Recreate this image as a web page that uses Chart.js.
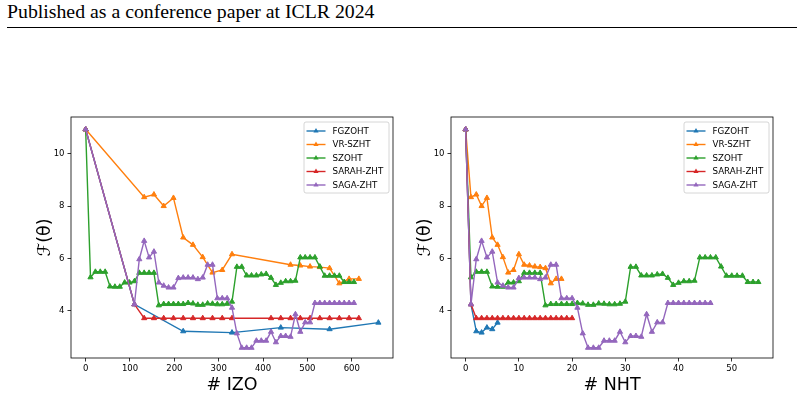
<!DOCTYPE html>
<html>
<head>
<meta charset="utf-8">
<script src="https://cdn.jsdelivr.net/npm/chart.js@4.4.1/dist/chart.umd.min.js"></script>
<style>
  body { margin: 0; background: #fff; width: 804px; height: 399px; position: relative; overflow: hidden; }
  #header { position: absolute; left: 7px; top: 2px; font-family: "Liberation Serif", serif; font-size: 19.8px; line-height: 19.8px; color: #000; white-space: nowrap; }
  #rule { position: absolute; left: 7px; top: 27px; width: 790px; height: 1px; background: #000; }
  canvas { position: absolute; }
</style>
</head>
<body>
<div id="header">Published as a conference paper at ICLR 2024</div>
<div id="rule"></div>
<canvas id="izoChart" width="400" height="299" style="left:0px; top:100px;"></canvas>
<canvas id="nhtChart" width="404" height="299" style="left:400px; top:100px;"></canvas>
<script>
const seriesNames = ["FGZOHT", "VR-SZHT", "SZOHT", "SARAH-ZHT", "SAGA-ZHT"];
const seriesColors = ["#1f77b4", "#ff7f0e", "#2ca02c", "#d62728", "#9467bd"];

const yTicks = [4, 6, 8, 10];
const izoTicks = [0, 100, 200, 300, 400, 500, 600];
const nhtTicks = [0, 10, 20, 30, 40, 50];

// objective values (same run seen against #IZO and #NHT)
const fgValues = [10.93, 4.25, 3.22, 3.17, 3.36, 3.30, 3.55];
const vrValues = [10.93, 8.34, 8.44, 8.00, 8.31, 6.80, 6.52, 6.05, 5.46, 5.56, 6.16, 5.76, 5.73, 5.69, 5.67, 5.63, 5.05, 5.22, 5.22];
const szValues = [10.93, 5.28, 5.49, 5.49, 5.49, 4.93, 4.92, 4.92, 5.08, 5.08,
  5.13, 5.45, 5.45, 5.45, 5.45, 4.21, 4.26, 4.26, 4.26, 4.26,
  4.26, 4.30, 4.28, 4.23, 4.23, 4.28, 4.27, 4.25, 4.25, 4.27,
  4.35, 5.68, 5.68, 5.35, 5.35, 5.35, 5.39, 5.41, 5.26, 4.99,
  5.07, 5.13, 5.13, 5.15, 6.04, 6.04, 6.04, 6.04, 5.69, 5.34,
  5.34, 5.34, 5.34, 5.10, 5.10, 5.10];
const sagaValues = [10.93, 4.25, 5.97, 6.67, 6.04, 6.26, 5.08, 4.96, 4.89, 4.89,
  5.25, 5.27, 5.27, 5.27, 5.21, 5.27, 5.76, 5.76, 4.48, 4.48,
  4.48, 4.12, 3.14, 2.59, 2.59, 2.59, 2.86, 2.86, 2.86, 3.20,
  2.80, 3.04, 3.04, 3.01, 3.87, 3.20, 3.56, 3.56, 4.30, 4.30,
  4.30, 4.30, 4.30, 4.30, 4.30, 4.30, 4.30];
const sarahIzoValues = [10.93, 4.25, 3.72, 3.72, 3.72, 3.72, 3.72, 3.72, 3.72, 3.72, 3.72,
  3.72, 3.72, 3.72, 3.72, 3.72, 3.72, 3.72, 3.72, 3.72, 3.72, 3.72];
const sarahNhtValues = [10.93, 4.25, 3.72, 3.72, 3.72, 3.72, 3.72, 3.72, 3.72, 3.72, 3.72,
  3.72, 3.72, 3.72, 3.72, 3.72, 3.72, 3.72, 3.72, 3.72, 3.72];

// #IZO positions
const fgIzo = [0, 110, 220, 330, 440, 550, 660];
const vrIzo = [0, 132, 154, 176, 198, 220, 242, 264, 286, 308, 330, 462, 484, 506, 528, 550, 572, 594, 616];
const szIzo = [0, 11, 22, 33, 44, 55, 66, 77, 88, 99,
  110, 121, 132, 143, 154, 165, 176, 187, 198, 209,
  220, 231, 242, 253, 264, 275, 286, 297, 308, 319,
  330, 341, 352, 363, 374, 385, 396, 407, 418, 429,
  440, 451, 462, 473, 484, 495, 506, 517, 528, 539,
  550, 561, 572, 583, 594, 605];
const sarahIzo = [0, 110, 132, 154, 176, 198, 220, 242, 264, 286, 308, 330,
  418, 440, 462, 484, 506, 528, 550, 572, 594, 616];
const sagaIzo = [0, 110, 121, 132, 143, 154, 165, 176, 187, 198,
  209, 220, 231, 242, 253, 264, 275, 286, 297, 308,
  319, 330, 341, 352, 363, 374, 385, 396, 407, 418,
  429, 440, 451, 462, 473, 484, 495, 506, 517, 528,
  539, 550, 561, 572, 583, 594, 605];

const toPoints = (xs, ys) => ys.map((y, i) => ({ x: xs ? xs[i] : i, y: y }));

function makeDatasets(list) {
  return list.map((pts, i) => ({
    label: seriesNames[i],
    data: pts,
    borderColor: seriesColors[i],
    backgroundColor: seriesColors[i],
    borderWidth: 1.4,
    pointStyle: "triangle",
    pointRadius: 3,
    pointBorderWidth: 1,
    tension: 0,
    order: seriesNames.length - i,
  }));
}

// box round the axes + legend in the upper right corner
const frameLegend = {
  id: "frameLegend",
  afterDraw(chart) {
    const { ctx, chartArea: a } = chart;
    ctx.save();
    ctx.strokeStyle = "#000";
    ctx.lineWidth = 0.8;
    ctx.strokeRect(a.left, a.top, a.right - a.left, a.bottom - a.top);

    const w = 85, h = 71;
    const bx = a.right - 4 - w, by = a.top + 5;
    ctx.beginPath();
    ctx.roundRect(bx, by, w, h, 2);
    ctx.fillStyle = "rgba(255,255,255,0.8)";
    ctx.fill();
    ctx.strokeStyle = "#cccccc";
    ctx.lineWidth = 0.8;
    ctx.stroke();

    ctx.font = "8.7px 'DejaVu Sans'";
    ctx.textBaseline = "middle";
    ctx.textAlign = "left";
    chart.data.datasets.forEach((ds, i) => {
      const y = by + 9 + i * 13.5;
      ctx.strokeStyle = ds.borderColor;
      ctx.lineWidth = 1.4;
      ctx.beginPath();
      ctx.moveTo(bx + 2.5, y);
      ctx.lineTo(bx + 21.5, y);
      ctx.stroke();
      const cx = bx + 12, r = 3;
      ctx.fillStyle = ds.borderColor;
      ctx.beginPath();
      ctx.moveTo(cx, y - r);
      ctx.lineTo(cx + r * 0.866, y + r * 0.5);
      ctx.lineTo(cx - r * 0.866, y + r * 0.5);
      ctx.closePath();
      ctx.fill();
      ctx.fillStyle = "#000";
      ctx.fillText(ds.label, bx + 28.5, y + 0.5);
    });
    ctx.restore();
  }
};

function makeChart(id, datasets, opt) {
  return new Chart(document.getElementById(id), {
    type: "line",
    data: { datasets: datasets },
    plugins: [frameLegend],
    options: {
      responsive: false,
      animation: false,
      devicePixelRatio: 1,
      layout: { padding: { top: 17, right: opt.padRight, left: 0, bottom: 0 } },
      plugins: { legend: { display: false }, tooltip: { enabled: false } },
      scales: {
        x: {
          type: "linear",
          min: opt.xMin,
          max: opt.xMax,
          afterBuildTicks: (ax) => { ax.ticks = opt.xTicks.map((v) => ({ value: v })); },
          afterFit: (ax) => { ax.height = 41; },
          grid: { drawOnChartArea: false, drawTicks: true, tickLength: 3.5, color: "#000", lineWidth: 0.8 },
          border: { display: false },
          ticks: { color: "#000", font: { family: "DejaVu Sans", size: 8.5 }, padding: 2, maxRotation: 0 },
          title: { display: true, text: opt.xTitle, color: "#000", font: { family: "DejaVu Sans", size: 17.5 }, padding: { top: 0, bottom: 3.5 } },
        },
        y: {
          type: "linear",
          min: 2.2,
          max: 11.4,
          afterBuildTicks: (ax) => { ax.ticks = yTicks.map((v) => ({ value: v })); },
          afterFit: (ax) => { ax.width = opt.yWidth; },
          grid: { drawOnChartArea: false, drawTicks: true, tickLength: 3.5, color: "#000", lineWidth: 0.8 },
          border: { display: false },
          ticks: { color: "#000", font: { family: "DejaVu Sans", size: 8.5 }, padding: 3 },
          title: { display: true, text: "ℱ(θ)", color: "#000", font: { family: "DejaVu Sans", size: 17.5 }, padding: { top: opt.yTitlePad, bottom: 0 } },
        },
      },
    },
  });
}

makeChart("izoChart", makeDatasets([
  toPoints(fgIzo, fgValues),
  toPoints(vrIzo, vrValues),
  toPoints(szIzo, szValues),
  toPoints(sarahIzo, sarahIzoValues),
  toPoints(sagaIzo, sagaValues),
]), { xMin: -33, xMax: 693, xTicks: izoTicks, xTitle: "# IZO", padRight: 7, yWidth: 71, yTitlePad: 34.5 });

makeChart("nhtChart", makeDatasets([
  toPoints(null, fgValues),
  toPoints(null, vrValues),
  toPoints(null, szValues),
  toPoints(null, sarahNhtValues),
  toPoints(null, sagaValues),
]), { xMin: -2.75, xMax: 57.75, xTicks: nhtTicks, xTitle: "# NHT", padRight: 31, yWidth: 51, yTitlePad: 14.5 });
</script>
</body>
</html>
